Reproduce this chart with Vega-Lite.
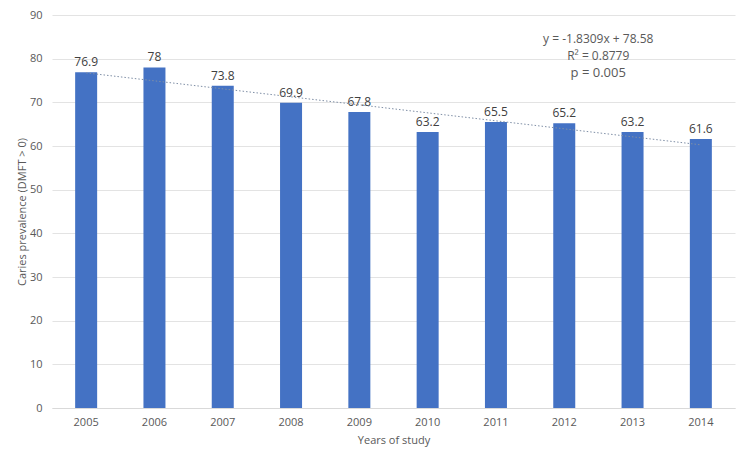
{
  "$schema": "https://vega.github.io/schema/vega-lite/v6.json",
  "autosize": "none",
  "width": 683,
  "height": 393,
  "padding": {"left": 52, "top": 15, "right": 15, "bottom": 52},
  "background": "white",
  "config": {
    "view": {"stroke": null},
    "font": "Open Sans",
    "axis": {"labelColor": "#595959", "titleColor": "#595959", "labelFontSize": 11, "titleFontSize": 11, "titleFontWeight": "normal", "gridColor": "#e3e3e3", "domainColor": "#d9d9d9", "ticks": false}
  },
  "datasets": {
    "bars": [
      {"year": "2005", "value": 76.9},
      {"year": "2006", "value": 78},
      {"year": "2007", "value": 73.8},
      {"year": "2008", "value": 69.9},
      {"year": "2009", "value": 67.8},
      {"year": "2010", "value": 63.2},
      {"year": "2011", "value": 65.5},
      {"year": "2012", "value": 65.2},
      {"year": "2013", "value": 63.2},
      {"year": "2014", "value": 61.6}
    ],
    "trend": [
      {"year": "2005", "trend": 76.75},
      {"year": "2014", "trend": 60.27}
    ],
    "note": [
      {"year": "2012", "line": "y = -1.8309x + 78.58", "pos": 84.4, "size": 12},
      {"year": "2012", "line": "R² = 0.8779", "pos": 80.7, "size": 12},
      {"year": "2012", "line": "p = 0.005", "pos": 76.8, "size": 13}
    ]
  },
  "layer": [
    {
      "data": {"name": "bars"},
      "mark": {"type": "bar", "color": "#4472C4", "width": 22},
      "encoding": {
        "x": {"field": "year", "type": "ordinal", "title": "Years of study", "scale": {"paddingInner": 0, "paddingOuter": 0}, "axis": {"labelAngle": 0, "labelPadding": 8, "titlePadding": 7, "grid": false}},
        "y": {"field": "value", "type": "quantitative", "title": "Caries prevalence (DMFT > 0)", "scale": {"domain": [0, 90]}, "axis": {"values": [0,10,20,30,40,50,60,70,80,90], "domain": false, "labelPadding": 10, "titlePadding": 2}}
      }
    },
    {
      "data": {"name": "bars"},
      "mark": {"type": "text", "dy": -10, "color": "#404040", "fontSize": 12},
      "encoding": {
        "x": {"field": "year", "type": "ordinal"},
        "y": {"field": "value", "type": "quantitative"},
        "text": {"field": "value", "type": "quantitative"}
      }
    },
    {
      "data": {"name": "trend"},
      "mark": {"type": "line", "color": "#7f8fa6", "strokeDash": [1.5, 2], "strokeWidth": 1},
      "encoding": {
        "x": {"field": "year", "type": "ordinal"},
        "y": {"field": "trend", "type": "quantitative"}
      }
    },
    {
      "data": {"name": "note"},
      "mark": {"type": "text", "color": "#595959", "dx": 34},
      "encoding": {
        "x": {"field": "year", "type": "ordinal"},
        "y": {"field": "pos", "type": "quantitative"},
        "text": {"field": "line"},
        "size": {"field": "size", "type": "quantitative", "scale": null}
      }
    }
  ]
}
